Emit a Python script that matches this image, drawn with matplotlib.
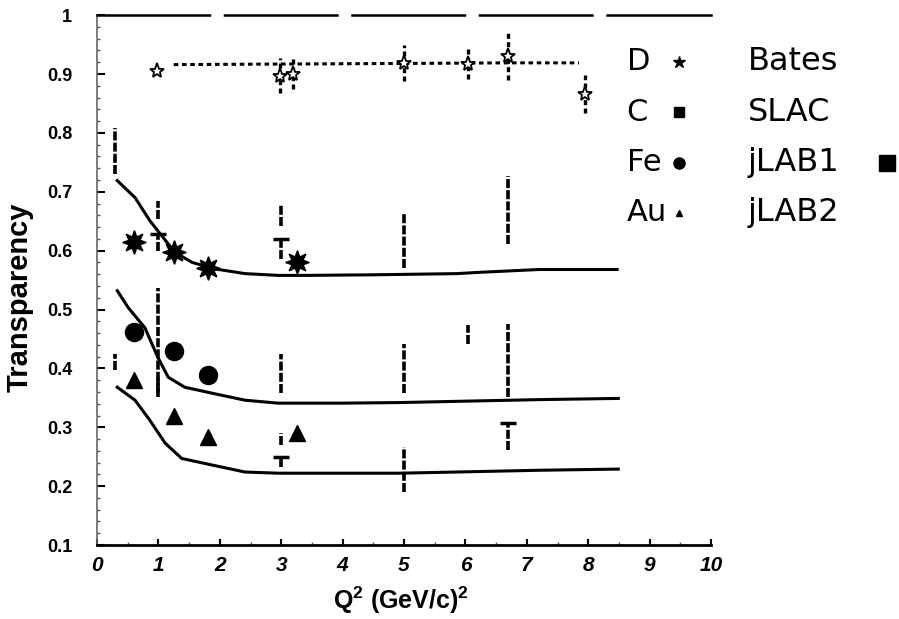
import numpy as np
import matplotlib
matplotlib.use('Agg')
import matplotlib.pyplot as plt

# Transparencia nuclear vs Q^2

# curvas de calculo (lineas continuas)
C_cx = [0.33, 0.62, 0.86, 1.27, 1.55, 1.92, 2.41, 2.95, 3.42, 4.5, 5.86, 6.19, 7.2, 8.47]
C_cy = [0.719, 0.690, 0.651, 0.597, 0.580, 0.569, 0.561, 0.558, 0.558, 0.559, 0.561, 0.563, 0.568, 0.568]
Fe_cx = [0.33, 0.51, 0.78, 0.99, 1.16, 1.43, 1.87, 2.41, 2.95, 4.0, 4.93, 7.2, 8.49]
Fe_cy = [0.532, 0.503, 0.469, 0.419, 0.385, 0.368, 0.358, 0.346, 0.341, 0.341, 0.342, 0.347, 0.349]
Au_cx = [0.33, 0.62, 0.86, 1.11, 1.38, 1.87, 2.41, 2.95, 4.0, 4.93, 7.2, 8.49]
Au_cy = [0.368, 0.346, 0.312, 0.273, 0.247, 0.236, 0.224, 0.222, 0.222, 0.222, 0.227, 0.229]
# linea punteada del deuterio
D_cx = [1.25, 3.0, 5.0, 6.7, 7.85]
D_cy = [0.916, 0.917, 0.918, 0.919, 0.919]

# puntos con simbolo
D_x = [0.98, 2.98, 3.2, 5.0, 6.05, 6.7, 7.95]
D_y = [0.905, 0.897, 0.900, 0.919, 0.917, 0.930, 0.866]
D_err = [0.0, 0.03, 0.025, 0.03, 0.025, 0.04, 0.032]
C_x = [0.6, 1.25, 1.8, 3.25]
C_y = [0.614, 0.597, 0.571, 0.580]
Fe_x = [0.6, 1.25, 1.8]
Fe_y = [0.461, 0.430, 0.388]
Au_x = [0.6, 1.25, 1.8, 3.25]
Au_y = [0.380, 0.320, 0.283, 0.290]

# barras de error sin simbolo (x, abajo, arriba)
C_bx = [0.3, 1.0, 3.0, 5.0, 6.7]
C_blo = [0.731, 0.654, 0.642, 0.571, 0.612]
C_bhi = [0.808, 0.685, 0.680, 0.663, 0.727]
Fe_bx = [0.3, 1.0, 3.0, 5.0, 6.05, 6.7]
Fe_blo = [0.397, 0.360, 0.358, 0.358, 0.442, 0.351]
Fe_bhi = [0.425, 0.537, 0.425, 0.442, 0.473, 0.476]
Au_bx = [1.0, 3.0, 5.0]
Au_blo = [0.351, 0.270, 0.190]
Au_bhi = [0.383, 0.290, 0.266]
# barras en forma de T
T_x = [1.0, 3.0, 3.0, 6.7]
T_hi = [0.629, 0.620, 0.249, 0.308]
T_lo = [0.600, 0.586, 0.232, 0.261]

xticks = [0, 1, 2, 3, 4, 5, 6, 7, 8, 9, 10]
yticks = [0.1, 0.2, 0.3, 0.4, 0.5, 0.6, 0.7, 0.8, 0.9, 1.0]
ytick_labels = ['0.1', '0.2', '0.3', '0.4', '0.5', '0.6', '0.7', '0.8', '0.9', '1']

plt.rcParams['mathtext.fontset'] = 'custom'
plt.rcParams['mathtext.rm'] = 'Liberation Sans:bold'
plt.rcParams['mathtext.default'] = 'rm'

fig = plt.figure(figsize=(8.99, 6.19), dpi=100)
ax = fig.add_axes([0.1079, 0.1195, 0.683, 0.856])

ax.plot(C_cx, C_cy, color='black', lw=2.2)
ax.plot(Fe_cx, Fe_cy, color='black', lw=2.2)
ax.plot(Au_cx, Au_cy, color='black', lw=2.2)
ax.plot(D_cx, D_cy, color='black', lw=2.2, dashes=(1.5, 1.2))

# barras de error punteadas
for bx, blo, bhi in [(C_bx, C_blo, C_bhi), (Fe_bx, Fe_blo, Fe_bhi), (Au_bx, Au_blo, Au_bhi), (T_x, T_lo, T_hi)]:
    ax.vlines(bx, blo, bhi, colors='black', lw=2.6, linestyles=(0, (2.5, 0.6)))
ax.plot(T_x, T_hi, ls='none', marker='_', ms=12, mew=2.5, color='black')

eb = ax.errorbar(D_x, D_y, yerr=D_err, fmt='*', ms=11, mfc='white', mec='black',
                 mew=1.3, ecolor='black', elinewidth=2.4, capsize=0)
eb[2][0].set_linestyle((0, (1.5, 1.0)))

ax.plot(C_x, C_y, ls='none', marker=(8, 1, 0), ms=17, color='black')
ax.plot(Fe_x, Fe_y, ls='none', marker='o', ms=13, color='black')
ax.plot(Au_x, Au_y, ls='none', marker='^', ms=11, color='black')

ax.set_xlim(0, 10)
ax.set_ylim(0.1, 1.0)
ax.set_xticks(xticks)
ax.set_xticklabels([str(t) for t in xticks], fontfamily='Liberation Sans',
                   fontweight='bold', fontstyle='italic', fontsize=15)
ax.set_yticks(yticks)
ax.set_yticklabels(ytick_labels, fontfamily='Liberation Sans', fontweight='bold', fontsize=13)
ax.set_xticks(np.arange(0, 10.01, 0.5), minor=True)
ax.set_yticks(np.arange(0.1, 1.0, 0.02), minor=True)
ax.tick_params(axis='x', which='major', direction='in', length=4, width=1.5, pad=8)
ax.tick_params(axis='y', which='major', direction='in', length=6, width=1.5, pad=18)
ax.tick_params(which='minor', direction='in', length=2.5, width=1, colors='#555555')

ax.spines['right'].set_visible(False)
ax.spines['bottom'].set_linewidth(2)
ax.spines['left'].set_linewidth(1.2)
ax.spines['left'].set_color('#666666')
ax.spines['top'].set_linewidth(1.8)
ax.spines['top'].set_linestyle((0, (45, 6)))

ax.set_xlabel(r'Q$^2$ (GeV/c)$^2$', fontfamily='Liberation Sans', fontweight='bold', fontsize=18)
ax.xaxis.set_label_coords(0.495, -0.075)
ax.set_ylabel('Transparency', fontfamily='Liberation Sans', fontweight='bold', fontsize=21)
ax.yaxis.set_label_coords(-0.104, 0.468)

# leyenda escrita a mano como en el original
rows = [0.900, 0.819, 0.737, 0.656]
names = ['D', 'C', 'Fe', 'Au']
labs = ['Bates', 'SLAC', 'jLAB1', 'jLAB2']
syms = [('*', 9), ('s', 7), ('o', 8), ('^', 4.5)]
for yy, nm, lb, (mk, sz) in zip(rows, names, labs, syms):
    fig.text(0.697, yy, nm, fontsize=22, va='center', ha='left', family='DejaVu Sans')
    fig.text(0.832, yy, lb, fontsize=23, va='center', ha='left', family='DejaVu Sans')
    ax.plot([0.755], [yy], marker=mk, ms=sz, color='black', transform=fig.transFigure, clip_on=False)
ax.plot([0.987], [0.737], marker='s', ms=12, color='black', transform=fig.transFigure, clip_on=False)

plt.savefig('out.png', dpi=100)
